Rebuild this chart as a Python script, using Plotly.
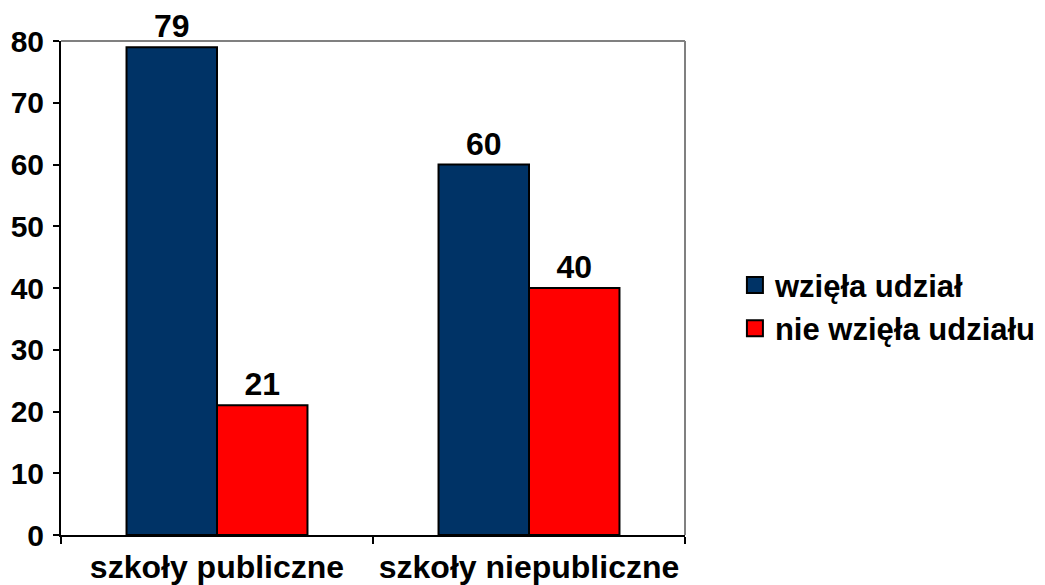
import plotly.graph_objects as go

categories = ["szkoły publiczne", "szkoły niepubliczne"]
took_part = [79, 60]
not_took_part = [21, 40]
series_names = ["wzięła udział", "nie wzięła udziału"]
colors = ["#003366", "#FF0000"]

FAMILY = "Liberation Sans, Arial, sans-serif"

fig = go.Figure()
for name, vals, col in zip(series_names, [took_part, not_took_part], colors):
    fig.add_trace(go.Bar(
        x=categories, y=vals, name=name,
        marker=dict(color=col, line=dict(color="black", width=2)),
        text=vals, textposition="outside", cliponaxis=False,
        textfont=dict(family=FAMILY, size=32, color="black"),
        texttemplate="<b>%{text}</b>",
        showlegend=False,
    ))
    # legend entry with a larger square swatch
    fig.add_trace(go.Scatter(
        x=[None], y=[None], mode="markers", name=f"<b>{name}</b>",
        marker=dict(symbol="square", size=23, color=col, line=dict(color="black", width=2)),
    ))

# the page body adds an 8px offset, so the figure is a bit smaller than the window
fig.update_layout(
    width=1037, height=577,
    margin=dict(l=53, r=360, t=33, b=50, autoexpand=False),
    paper_bgcolor="white", plot_bgcolor="white",
    barmode="group", bargap=0.42, bargroupgap=0,
    font=dict(family=FAMILY, size=29, color="black"),
    legend=dict(x=1.08, y=0.462, xanchor="left", yanchor="middle",
                font=dict(family=FAMILY, size=31, color="black"),
                tracegroupgap=0, itemsizing="trace"),
)
fig.update_xaxes(
    showline=True, linecolor="black", linewidth=2,
    ticks="outside", tickson="boundaries", ticklen=7, tickwidth=2, tickcolor="black",
    tickfont=dict(size=32), ticklabelstandoff=3, tickangle=0,
    tickvals=categories, ticktext=[f"<b>{c}</b>" for c in categories],
    showgrid=False, automargin=False,
)
fig.update_yaxes(
    range=[0, 80], dtick=10,
    showline=True, linecolor="black", linewidth=2,
    ticks="outside", ticklen=6, tickwidth=2, tickcolor="black",
    tickfont=dict(size=30), ticklabelstandoff=3,
    tickprefix="<b>", ticksuffix="</b>",
    showgrid=False, zeroline=False, automargin=False,
)
# gray top and right frame of the plot area
fig.add_shape(type="line", xref="paper", yref="paper", x0=0, x1=1, y0=1, y1=1,
              line=dict(color="#808080", width=2))
fig.add_shape(type="line", xref="paper", yref="paper", x0=1, x1=1, y0=0, y1=1,
              line=dict(color="#808080", width=2))

fig.write_html("out.html")
